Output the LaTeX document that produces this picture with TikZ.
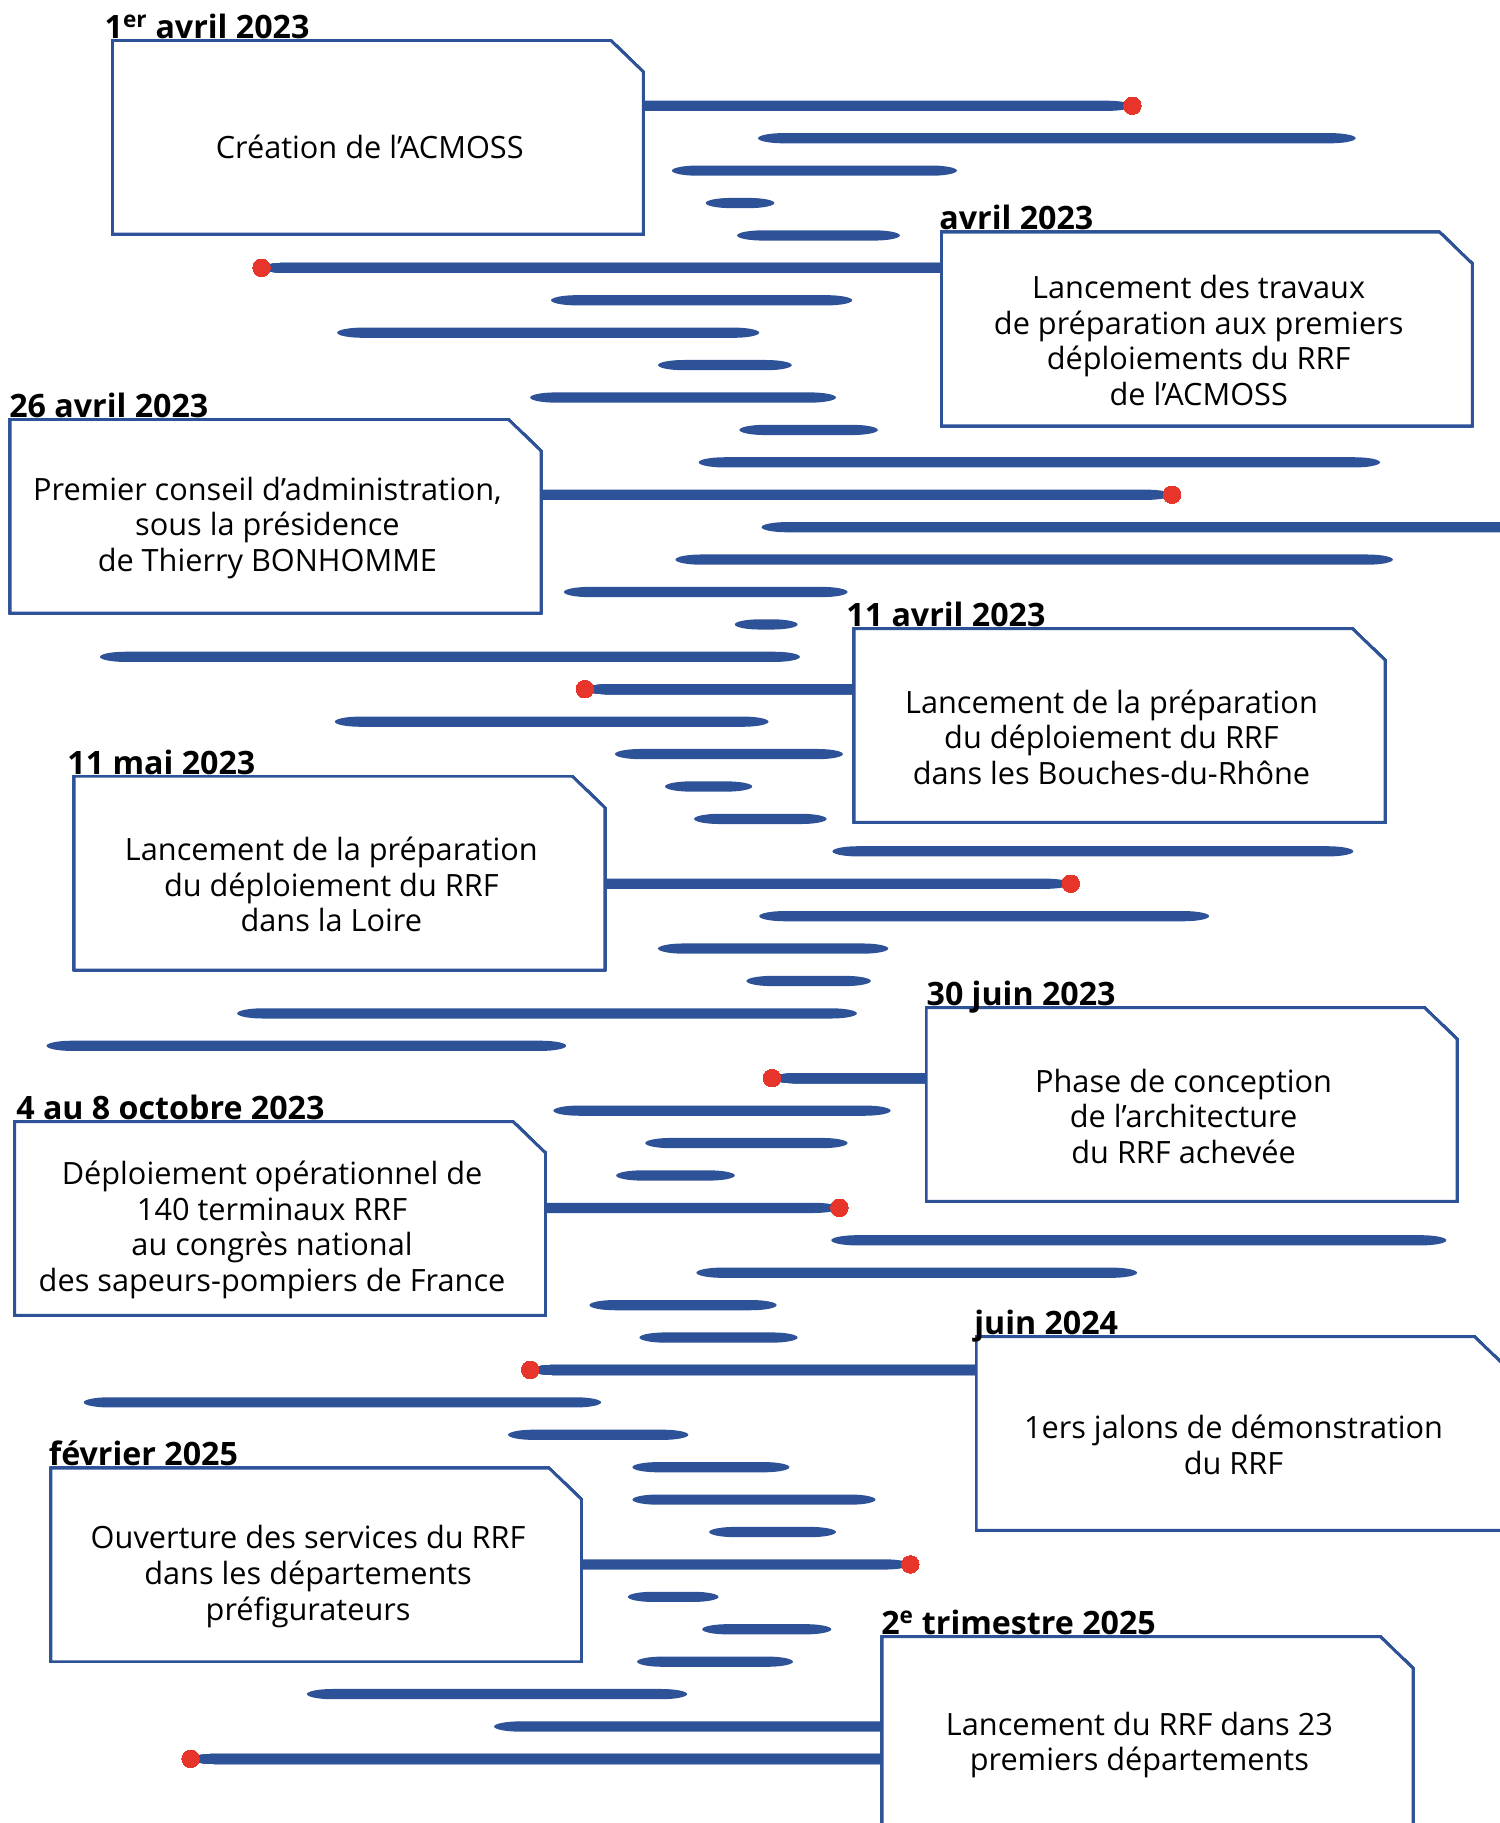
\documentclass[tikz,border=0pt]{standalone}
\usepackage{fontspec}
\setmainfont{Open Sans}
\usepackage{tikz}
\usetikzlibrary{positioning,calc}

\definecolor{barblue}{RGB}{46,82,152}
\definecolor{dotred}{RGB}{232,53,43}

\tikzset{
  dot/.style={circle,fill=dotred,inner sep=0pt,minimum size=15bp},
  card/.style={minimum width=456bp,minimum height=166bp,inner sep=0pt},
  cardtext/.style={align=center,font=\fontsize{26.5}{30.7}\selectfont},
  datelabel/.style={anchor=base west,inner sep=0pt,font=\bfseries\fontsize{27.8}{30}\selectfont},
}

% bar between two points, #3 and #4 = taper length at each end
\newcommand\spindle[4]{\fill[barblue] let \p1=(#1), \p2=(#2), \n1={min(#3,(\x2-\x1)/2.5)}, \n2={min(#4,(\x2-\x1)/2.5)} in
  (\x1,\y1) .. controls (\x1,\y1+2.4bp) and (\x1+0.45*\n1,\y1+4.4bp) .. (\x1+\n1,\y1+4.4bp) -- (\x2-\n2,\y2+4.4bp)
  .. controls (\x2-0.45*\n2,\y2+4.4bp) and (\x2,\y2+2.4bp) .. (\x2,\y2)
  .. controls (\x2,\y2-2.4bp) and (\x2-0.45*\n2,\y2-4.4bp) .. (\x2-\n2,\y2-4.4bp) -- (\x1+\n1,\y1-4.4bp)
  .. controls (\x1+0.45*\n1,\y1-4.4bp) and (\x1,\y1-2.4bp) .. cycle;}
\newcommand\cardline[1]{\filldraw[draw=barblue,fill=white,line width=2.3bp] (#1.north west) -- ([shift={(-28,0)}]#1.north east) -- ([shift={(0,27)}]#1.north east) -- (#1.south east) -- (#1.south west) -- cycle;}

\begin{document}
\begin{tikzpicture}[x=1bp,y=-1bp]
\useasboundingbox (0,0) rectangle (1290,1568);
\clip (0,0) rectangle (1290,1568);
% cards
\node[card] (b1) at (325,118) {};
\node[card] (b2) at (1038,283) {};
\node[card] (b3) at (237,444) {};
\node[card] (b4) at (963,624) {};
\node[card] (b5) at (292,751) {};
\node[card] (b6) at (1025,950) {};
\node[card] (b7) at (241,1048) {};
\node[card] (b8) at (1068,1233) {};
\node[card] (b9) at (272,1346) {};
\node[card] (b10) at (987,1491) {};
% dots
\foreach \k/\i/\x in {1/0/974,2/5/225,3/12/1008,4/18/503,5/24/921,6/30/664,7/34/722,8/39/456,9/45/783,10/51/164}
  \node[dot] (d\k) at (\x,91+27.88*\i) {};
% bars
\foreach \i/\a/\b in {1/652/1166,2/578/823,3/607/666,4/634/774,6/474/733,7/290/653,8/566/681,9/456/719,10/636/755,
  11/601/1187,13/655/1320,14/581/1198,15/485/729,16/632/686,17/86/688,19/288/661,20/529/725,21/572/647,22/597/711,
  23/716/1164,25/653/1040,26/566/764,27/642/749,28/204/737,29/40/487,31/476/766,32/555/729,33/530/632,35/715/1244,
  36/599/978,37/507/668,38/550/686,40/72/517,41/437/592,42/544/679,43/544/753,44/610/719,46/540/618,47/604/715,
  48/548/682,49/264/591}
  \spindle{\a,91+27.88*\i}{\b,91+27.88*\i}{22bp}{22bp}
\coordinate (s50) at (425,91+27.88*50);
\spindle{s50}{s50 -| b10.west}{22bp}{0bp}
% connectors
\foreach \k in {1,3,5,7,9}
  \spindle{b\k.east |- d\k}{d\k.center}{0bp}{22bp}
\foreach \k in {2,4,6,8,10}
  \spindle{d\k.center}{b\k.west |- d\k}{22bp}{0bp}
\foreach \k in {1,...,10}
  \cardline{b\k}
\foreach \k in {1,...,10}
  \node[dot] at (d\k) {};
% texts
\node[cardtext] (t1) at ([shift={(-7,8)}]b1.center) {Création de l’ACMOSS};
\node[cardtext] (t2) at ([shift={(-7,10)}]b2.center) {Lancement des travaux\\de préparation aux premiers\\déploiements du RRF\\de l’ACMOSS};
\node[cardtext] (t3) at ([shift={(-7,10)}]b3.center) {Premier conseil d’administration,\\sous la présidence\\de Thierry BONHOMME};
\node[cardtext] (t4) at ([shift={(-7,10)}]b4.center) {Lancement de la préparation\\du déploiement du RRF\\dans les Bouches-du-Rhône};
\node[cardtext] (t5) at ([shift={(-7,10)}]b5.center) {Lancement de la préparation\\du déploiement du RRF\\dans la Loire};
\node[cardtext] (t6) at ([shift={(-7,10)}]b6.center) {Phase de conception\\de l’architecture\\du RRF achevée};
\node[cardtext] (t7) at ([shift={(-7,10)}]b7.center) {Déploiement opérationnel de\\140 terminaux RRF\\au congrès national\\des sapeurs-pompiers de France};
\node[cardtext] (t8) at ([shift={(-7,10)}]b8.center) {1ers jalons de démonstration\\du RRF};
\node[cardtext] (t9) at ([shift={(-7,10)}]b9.center) {Ouverture des services du RRF\\dans les départements\\préfigurateurs};
\node[cardtext] (t10) at ([shift={(-7,10)}]b10.center) {Lancement du RRF dans 23\\premiers départements};
% dates
\node[datelabel] (l1) at ([shift={(-7,-2)}]b1.north west) {1\textsuperscript{er} avril 2023};
\node[datelabel] (l2) at ([shift={(-2,-2)}]b2.north west) {avril 2023};
\node[datelabel] (l3) at ([shift={(-1,-2)}]b3.north west) {26 avril 2023};
\node[datelabel] (l4) at ([shift={(-7,-2)}]b4.north west) {11 avril 2023};
\node[datelabel] (l5) at ([shift={(-6,-2)}]b5.north west) {11 mai 2023};
\node[datelabel] (l6) at ([shift={(0,-2)}]b6.north west) {30 juin 2023};
\node[datelabel] (l7) at ([shift={(1,-2)}]b7.north west) {4 au 8 octobre 2023};
\node[datelabel] (l8) at ([shift={(-2,-2)}]b8.north west) {juin 2024};
\node[datelabel] (l9) at ([shift={(-2,-2)}]b9.north west) {février 2025};
\node[datelabel] (l10) at ([shift={(-1,-2)}]b10.north west) {2\textsuperscript{e} trimestre 2025};
\end{tikzpicture}
\end{document}
